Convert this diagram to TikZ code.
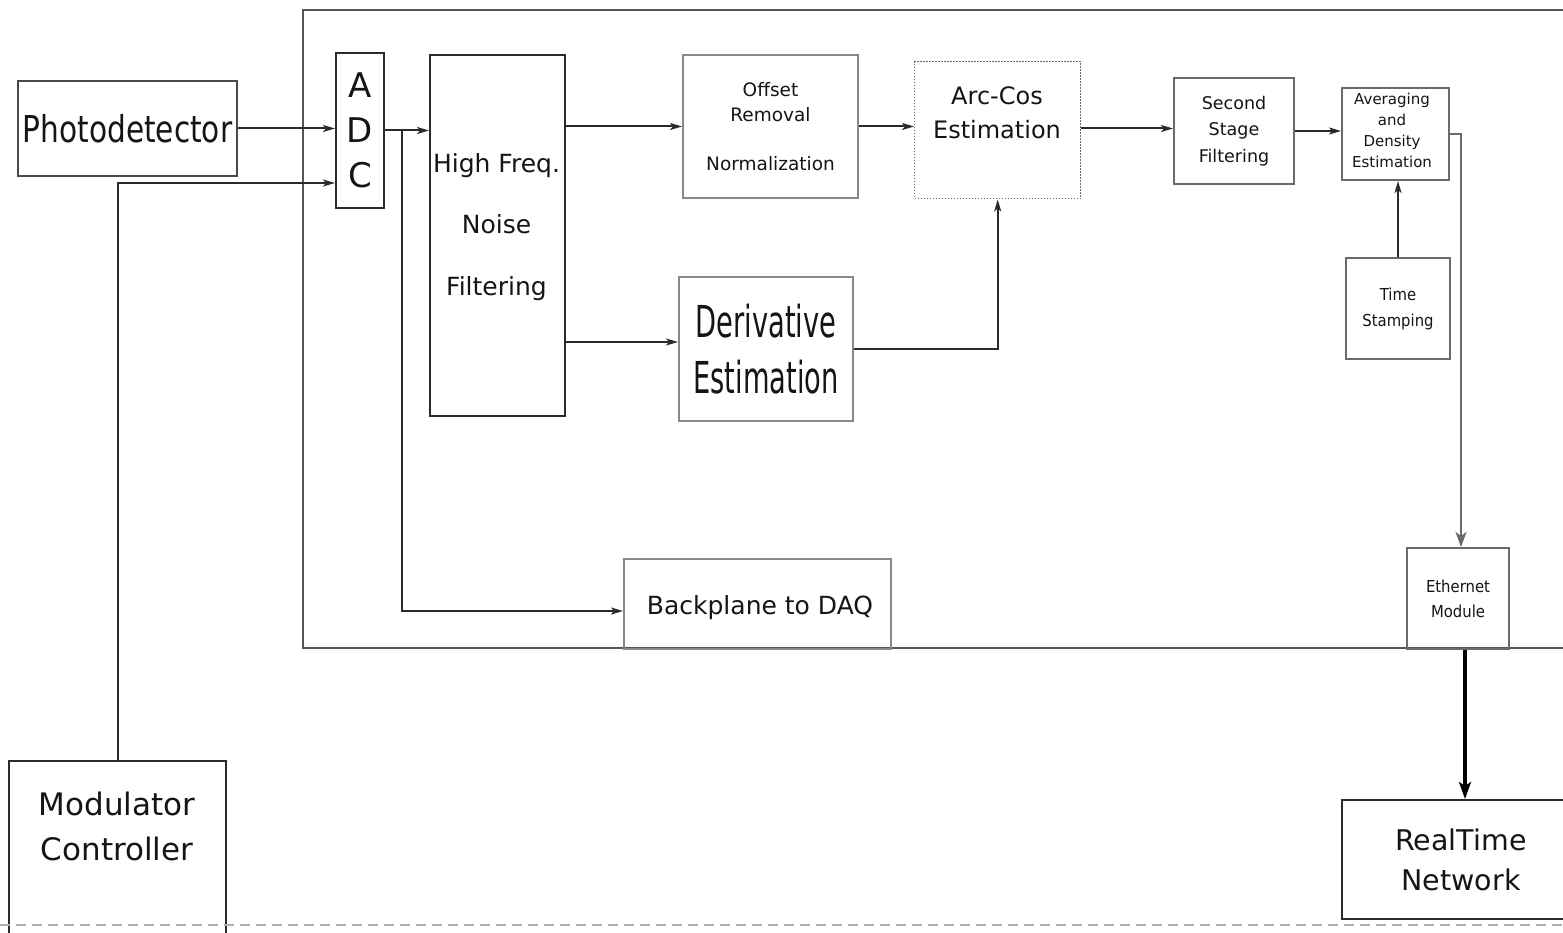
\documentclass[tikz,border=0pt]{standalone}
\usepackage{fontspec}
\setmainfont{DejaVu Sans}
\newfontfamily\condA[FakeStretch=0.8]{DejaVu Sans}
\newfontfamily\condB[FakeStretch=0.62]{DejaVu Sans}
\newfontfamily\condC[FakeStretch=0.9]{DejaVu Sans}
\usetikzlibrary{arrows.meta}
\definecolor{boxgray}{HTML}{6A6A6A}
\definecolor{linegray}{HTML}{2A2A2A}
\definecolor{txtcol}{HTML}{151515}
\definecolor{dashcol}{HTML}{9DB2C6}
\tikzset{
  blk/.style={draw=boxgray, line width=2pt, inner sep=0pt, anchor=north west, align=center, text=txtcol},
  txt/.style={inner sep=0pt, align=center, text=txtcol},
  arr/.style={draw=linegray, line width=2pt, -{Stealth[length=12pt,width=7pt,inset=3pt]}},
  midarr/.style={draw=boxgray, line width=2pt, -{Stealth[length=15pt,width=11pt,inset=4pt]}},
  bigarr/.style={draw=black, line width=3.2pt, -{Stealth[length=17pt,width=12pt,inset=4pt]}},
  frameline/.style={draw=boxgray!80!black, line width=2.4pt},
  dashline/.style={draw=dashcol, line width=2pt, dash pattern=on 10pt off 6pt},
}
\begin{document}
\begin{tikzpicture}[x=1pt,y=-1pt]
\clip (0,0) rectangle (1563,933);
\fill[white] (0,0) rectangle (1563,933);

% main frame (open to the right)
\draw[frameline] (1580,10) -- (303,10) -- (303,648) -- (1580,648);

% blocks
\node[blk, draw=boxgray!70!black, minimum width=219, minimum height=95,
      font=\condA\fontsize{37}{44}\selectfont] (pd) at (17,80) {Photodetector};
\node[blk, draw=linegray, minimum width=48, minimum height=155,
      font=\fontsize{34}{45}\selectfont] (adc) at (335,52) {A\\D\\C};
\node[blk, draw=linegray, minimum width=135, minimum height=361] (hf) at (429,54) {};
\node[txt, font=\fontsize{25}{61.5}\selectfont] (hft) at (496.5,227) {High Freq.\\Noise\\Filtering};
\node[blk, draw=boxgray!80, minimum width=175, minimum height=143,
      font=\fontsize{18.5}{25}\selectfont] (off) at (682,54) {Offset\\Removal\\[24.5pt]Normalization};
\node[blk, draw=boxgray!80, minimum width=174, minimum height=144,
      font=\condB\fontsize{44}{56}\selectfont] (der) at (678,276) {Derivative\\Estimation};
\node[blk, draw=boxgray, dash pattern=on 1.5pt off 1.5pt, line width=1.4pt,
      minimum width=166, minimum height=137] (arc) at (914,61) {};
\node[txt, font=\fontsize{24}{34}\selectfont] (arct) at (997,113) {Arc-Cos\\Estimation};
\node[blk, minimum width=120, minimum height=106,
      font=\fontsize{17.5}{26.5}\selectfont] (ss) at (1173,77) {Second\\Stage\\Filtering};
\node[blk, minimum width=107, minimum height=92] (avg) at (1341,87) {};
\node[txt, font=\fontsize{15}{21}\selectfont] (avgt) at (1392,130) {Averaging\\and\\Density\\Estimation};
\node[blk, minimum width=104, minimum height=101,
      font=\condC\fontsize{16.5}{26}\selectfont] (ts) at (1345,257) {Time\\Stamping};
\node[blk, minimum width=102, minimum height=101,
      font=\condC\fontsize{16.5}{25}\selectfont] (eth) at (1406,547) {Ethernet\\Module};
\node[blk, draw=boxgray!80, minimum width=267, minimum height=90] (bp) at (623,558) {};
\node[txt, font=\fontsize{25}{30}\selectfont] (bpt) at (760,608) {Backplane to DAQ};
\node[blk, draw=linegray, minimum width=217, minimum height=200] (mod) at (8,760) {};
\node[txt, font=\fontsize{31}{45}\selectfont] (modt) at (117,826) {Modulator\\Controller};
\node[blk, draw=linegray, minimum width=238, minimum height=119,
      font=\fontsize{28.5}{40}\selectfont] (rt) at (1341,799) {RealTime\\Network};

% connectors
\draw[arr] (pd.east) -- (pd.east -| adc.west);
\draw[arr] (mod.north) |- ([yshift=-52.5pt]adc.west);
\draw[arr] (adc.east) -- (adc.east -| hf.west);
\coordinate (brk) at ([xshift=17pt]adc.east);
\coordinate (bpIn) at ([yshift=-7pt]bp.west);
\draw[arr] (brk) |- (bpIn);
\draw[arr] (hf.east |- off.west) -- (off.west);
\coordinate (dIn) at ([yshift=7pt]der.west);
\draw[arr] (hf.east |- dIn) -- (dIn);
\draw[arr] (der.east) -| (arc.south);
\draw[arr] (off.east) -- (off.east -| arc.west);
\coordinate (sIn) at ([yshift=2.5pt]ss.west);
\draw[arr] (sIn -| arc.east) -- (sIn);
\draw[arr] (ss.east) -- (ss.east -| avg.west);
\draw[arr] (ts.north) -- (ts.north |- avg.south);
\coordinate (eIn) at ([xshift=3pt]eth.north);
\draw[midarr] (avg.east) -| (eIn);
\coordinate (eOut) at ([xshift=7pt]eth.south);
\draw[bigarr] (eOut) -- (eOut |- rt.north);

% dashed baseline
\draw[dashline] (0,925) -- (1563,925);
\end{tikzpicture}
\end{document}
